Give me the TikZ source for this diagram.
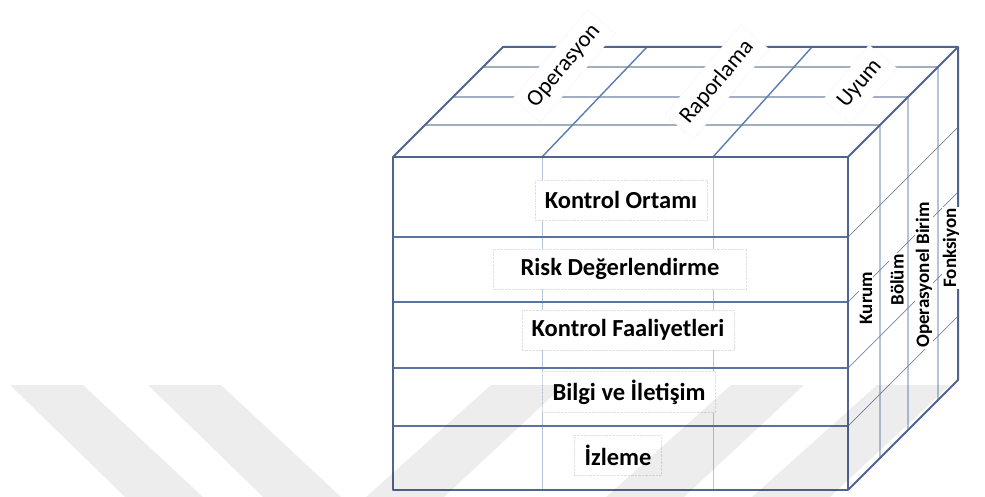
\documentclass[tikz,border=0pt]{standalone}
\usepackage{fontspec}
\setmainfont{Carlito}
\usetikzlibrary{calc}
\definecolor{edgeblue}{HTML}{4F6590}
\definecolor{rowblue}{HTML}{5A74A2}
\definecolor{paleblue}{HTML}{B4C4DB}
\definecolor{midblue}{HTML}{5B7CAE}
\definecolor{greyblue}{HTML}{A2AFC1}
\definecolor{slateline}{HTML}{77859B}
\tikzset{
  cubeedge/.style={draw=edgeblue, line width=2pt, line join=round},
  rowline/.style={draw=rowblue, line width=1.8pt},
  colline/.style={draw=paleblue, line width=0.9pt},
  topdiag/.style={draw=midblue, line width=1.4pt},
  tophz/.style={draw=greyblue, line width=1.5pt},
  sidevert/.style={draw=paleblue, line width=1.3pt},
  sidediag/.style={draw=slateline, line width=0.7pt},
  frontlabel/.style={fill=white, draw=black!12, densely dotted, inner xsep=10pt, inner ysep=8pt,
    minimum height=40pt, font=\fontsize{24.5}{27}\selectfont\bfseries},
  toplabel/.style={fill=white, draw=black!12, densely dotted, inner xsep=8pt, inner ysep=9pt,
    rotate=50, font=\fontsize{23}{26}\selectfont},
  sidelabel/.style={fill=white, inner sep=1pt, rotate=90,
    font=\fontsize{19}{21}\selectfont\bfseries},
  stripe/.style={fill=black, opacity=0.07, draw=none}
}
\begin{document}
\begin{tikzpicture}[x=1pt, y=-1pt]
\useasboundingbox (0,0) rectangle (985,497);

% cube corners
\coordinate (FTL) at (393,157);
\coordinate (FTR) at (848,157);
\coordinate (FBL) at (393,490);
\coordinate (FBR) at (848,490);
\coordinate (BTL) at (503,47);
\coordinate (BTR) at (958,47);
\coordinate (BBR) at (958,380);

% right face: depth columns and sheared row lines
\foreach \d in {32,60,90}
  \draw[sidevert] ($(FTR)+(\d,-\d)$) -- ($(FBR)+(\d,-\d)$);
\foreach \r in {237,302,368,426}
  \draw[sidediag] (848,\r) -- ++(110,-110);

% top face: depth rows and column diagonals
\foreach \d in {32,60,90}
  \draw[tophz] ($(FTL)+(\d,-\d)$) -- ($(FTR)+(\d,-\d)$);
\coordinate (TC1f) at (542,157); \coordinate (TC1b) at (647,47);
\coordinate (TC2f) at (713,157); \coordinate (TC2b) at (812,47);
\draw[topdiag] (TC1f) -- (TC1b);
\draw[topdiag] (TC2f) -- (TC2b);

% front face grid
\draw[colline] (542,157) -- (542,490);
\draw[colline] (713,157) -- (713,490);
\foreach \r in {237,302,368,426}
  \draw[rowline] (393,\r) -- (848,\r);

% outer edges
\draw[cubeedge] (FTL) rectangle (FBR);
\draw[cubeedge] (FTL) -- (BTL) -- (BTR) -- (FTR);
\draw[cubeedge] (BTR) -- (BBR) -- (FBR);

% front labels
\node[frontlabel] (ko) at (621,200) {Kontrol Ortamı};
\node[frontlabel, inner xsep=27pt] (rd) at (620,269) {Risk Değerlendirme};
\node[frontlabel] (kf) at (628,330) {Kontrol Faaliyetleri};
\node[frontlabel] (bi) at (629,392) {Bilgi ve İletişim};
\node[frontlabel] (iz) at (618,455) {İzleme};

% top labels
\node[toplabel] (op) at (564,66) {Operasyon};
\node[toplabel] (ra) at (717,82) {Raporlama};
\node[toplabel] (uy) at (860,84) {Uyum};

% right face labels
\node[sidelabel] (ku) at (866,298) {Kurum};
\node[sidelabel] (bo) at (897,280) {Bölüm};
\node[sidelabel] (ob) at (924,275) {Operasyonel Birim};
\node[sidelabel] (fo) at (951,248) {Fonksiyon};

% faint diagonal stripes along the lower part
\begin{scope}
\clip (0,385) rectangle (985,497);
\foreach \a in {10,148}
  \fill[stripe] (\a,385) -- ++(73,0) -- ++(120,112) -- ++(-78,0) -- cycle;
\foreach \a in {366,606,752}
  \fill[stripe] (\a,497) -- ++(78,0) -- ++(120,-112) -- ++(-73,0) -- cycle;
\end{scope}
\end{tikzpicture}
\end{document}
